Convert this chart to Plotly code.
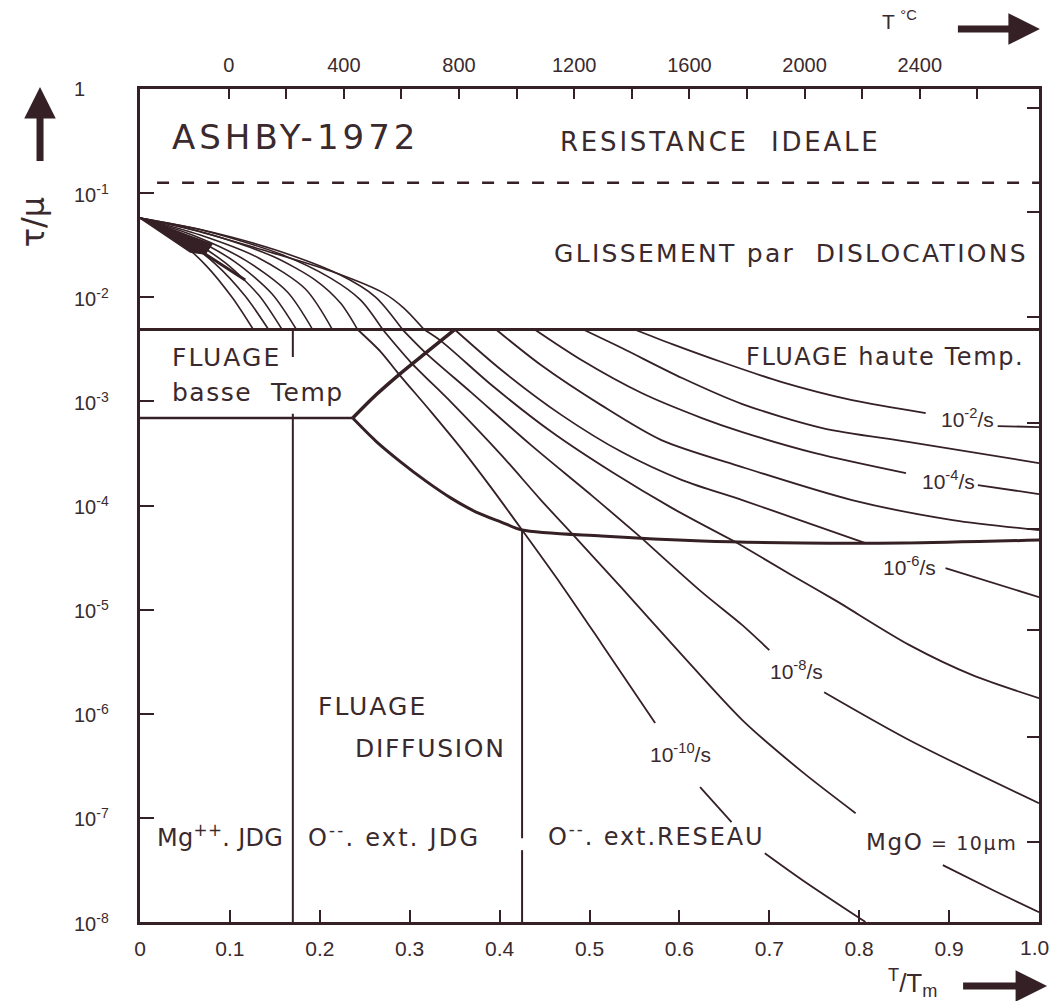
import plotly.graph_objects as go

LINE = "#352125"
TEXT = "#3a2a2d"
FONT = "DejaVu Sans"

# ---------------- axes data ----------------
x_ticks = [0, 0.1, 0.2, 0.3, 0.4, 0.5, 0.6, 0.7, 0.8, 0.9]
x_ticktext = ["0", "0.1", "0.2", "0.3", "0.4", "0.5", "0.6", "0.7", "0.8", "0.9"]
x_last_tick = 1.0
x_last_text = "1.0"
y_tick_exp = [0, -1, -2, -3, -4, -5, -6, -7, -8]
y_ticktext = ["1", "10<sup>-1</sup>", "10<sup>-2</sup>", "10<sup>-3</sup>", "10<sup>-4</sup>",
              "10<sup>-5</sup>", "10<sup>-6</sup>", "10<sup>-7</sup>", "10<sup>-8</sup>"]
t_celsius_ticks = [0, 400, 800, 1200, 1600, 2000, 2400]
t_celsius_text = ["0", "400", "800", "1200", "1600", "2000", "2400"]
t_celsius_minor = [200, 600, 1000, 1400, 1800, 2200, 2600]
t_celsius_range = [-308, 2814]           # top scale as drawn (°C over T/Tm 0..1)
right_tick_log = [-0.18, -1.18, -2.19, -3.21, -4.23, -5.20, -6.22, -7.23]

# ---------------- boundaries (T/Tm, log10 tau/mu) ----------------
ideal_x = [0.019, 1.0]
ideal_log = [-0.90, -0.90]
glide_x = [0.0, 1.0]
glide_log = [-2.31, -2.31]
ltcreep_x = [0.0, 0.2366]
ltcreep_log = [-3.16, -3.16]
diag_x = [0.2366, 0.2623, 0.2902, 0.3203, 0.350]
diag_log = [-3.16, -2.939, -2.728, -2.517, -2.31]
diff_x = [0.2366, 0.2623, 0.2902, 0.3181, 0.3460, 0.3739, 0.4018, 0.425, 0.5134, 0.625, 0.7366, 0.8482, 1.0]
diff_log = [-3.16, -3.381, -3.583, -3.766, -3.929, -4.063, -4.159, -4.236, -4.294, -4.342, -4.361, -4.361, -4.332]
jdg_x = 0.170
jdg_log = [-3.12, -8.0]
jdg_tick_log = [-2.31, -2.574]
lattice_x = 0.425
lattice_log_a = [-4.236, -7.195]
lattice_log_b = [-7.31, -8.0]

# ---------------- glide fan (T/Tm, log10 tau/mu) ----------------
fan = [
    ([0, 0.039, 0.073, 0.103, 0.126], [-1.239, -1.431, -1.691, -2.008, -2.31]),
    ([0, 0.045, 0.084, 0.117, 0.143], [-1.239, -1.431, -1.681, -1.988, -2.31]),
    ([0, 0.050, 0.095, 0.132, 0.158], [-1.239, -1.422, -1.671, -1.979, -2.31]),
    ([0, 0.056, 0.106, 0.147, 0.174], [-1.239, -1.422, -1.662, -1.969, -2.31]),
    ([0, 0.061, 0.117, 0.164, 0.192], [-1.239, -1.412, -1.643, -1.950, -2.31]),
    ([0, 0.067, 0.132, 0.184, 0.214], [-1.239, -1.403, -1.623, -1.921, -2.31]),
    ([0, 0.073, 0.147, 0.195, 0.223, 0.242], [-1.239, -1.383, -1.604, -1.835, -2.056, -2.31]),
    ([0, 0.073, 0.156, 0.212, 0.2455, 0.270], [-1.239, -1.364, -1.585, -1.816, -2.027, -2.31]),
    ([0, 0.065, 0.151, 0.223, 0.262, 0.292], [-1.239, -1.345, -1.547, -1.787, -1.998, -2.31]),
    ([0, 0.059, 0.137, 0.212, 0.271, 0.2935, 0.316], [-1.239, -1.354, -1.547, -1.748, -1.960, -2.104, -2.31]),
]
wedge_x = [0, 0.080, 0.0725, 0.056, 0]
wedge_log = [-1.239, -1.489, -1.585, -1.566, -1.239]
wedge_tail_x = [0.0725, 0.117]
wedge_tail_log = [-1.585, -1.835]

# ---------------- strain-rate contours: list of segments ----------------
rate_1e2 = [([0.550, 0.592, 0.647, 0.714, 0.792, 0.874], [-2.31, -2.450, -2.622, -2.815, -2.988, -3.112]),
            ([0.954, 1.0], [-3.237, -3.247])]
rate_1e3 = [([0.493, 0.536, 0.603, 0.670, 0.759, 0.856, 1.0], [-2.31, -2.488, -2.776, -3.026, -3.256, -3.391, -3.593])]
rate_1e4 = [([0.439, 0.491, 0.558, 0.625, 0.670, 0.751, 0.852], [-2.31, -2.603, -2.920, -3.160, -3.295, -3.497, -3.689]),
            ([0.932, 1.0], [-3.804, -3.890])]
rate_1e5 = [([0.396, 0.446, 0.513, 0.580, 0.670, 0.792, 0.904, 1.0], [-2.31, -2.651, -3.036, -3.372, -3.631, -3.948, -4.140, -4.236])]
rate_1e6 = [([0.350, 0.402, 0.469, 0.536, 0.603, 0.670, 0.737, 0.807], [-2.31, -2.699, -3.132, -3.487, -3.756, -3.948, -4.150, -4.361]),
            ([0.896, 1.0], [-4.601, -4.880])]
rate_1e7 = [([0.316, 0.335, 0.391, 0.458, 0.525, 0.592, 0.662], [-2.31, -2.421, -2.843, -3.295, -3.679, -4.025, -4.348]),
            ([0.662, 0.725, 0.773, 0.856, 0.926, 1.0], [-4.348, -4.669, -4.909, -5.341, -5.629, -5.850])]
rate_1e8 = [([0.292, 0.318, 0.368, 0.435, 0.502, 0.558], [-2.31, -2.536, -2.911, -3.420, -3.900, -4.313]),
            ([0.558, 0.625, 0.670, 0.700], [-4.313, -4.832, -5.149, -5.389]),
            ([0.761, 0.856, 1.0], [-5.793, -6.254, -6.859])]
rate_1e9 = [([0.270, 0.301, 0.346, 0.402, 0.446, 0.480], [-2.31, -2.622, -3.007, -3.516, -3.948, -4.265]),
            ([0.480, 0.536, 0.603, 0.670, 0.737, 0.796], [-4.265, -4.793, -5.437, -6.061, -6.561, -6.955]),
            ([0.893, 0.949, 1.0], [-7.454, -7.695, -7.906])]
rate_1e10 = [([0.242, 0.268, 0.287, 0.324, 0.357, 0.391, 0.425], [-2.31, -2.526, -2.728, -3.103, -3.449, -3.833, -4.236]),
             ([0.425, 0.469, 0.513, 0.573], [-4.236, -4.765, -5.322, -6.090]),
             ([0.623, 0.658], [-6.705, -7.041]),
             ([0.695, 0.737, 0.807], [-7.339, -7.598, -8.0])]
rates = [rate_1e2, rate_1e3, rate_1e4, rate_1e5, rate_1e6, rate_1e7, rate_1e8, rate_1e9, rate_1e10]

# rate labels (T/Tm, log10 tau/mu, text)
rate_labels = [
    (0.9208, -3.16, "10<sup>-2</sup>/s"),
    (0.8996, -3.756, "10<sup>-4</sup>/s"),
    (0.856, -4.582, "10<sup>-6</sup>/s"),
    (0.730, -5.581, "10<sup>-8</sup>/s"),
    (0.6016, -6.378, "10<sup>-10</sup>/s"),
]
# field labels (left T/Tm, log10 tau/mu, text, size, letter spacing px)
field_labels = [
    (0.0335, -0.461, "ASHBY-1972", 34, 4),
    (0.4654, -0.509, "RESISTANCE  IDEALE", 26, 2.8),
    (0.4587, -1.575, "GLISSEMENT par  DISLOCATIONS", 25, 2.3),
    (0.0335, -2.574, "FLUAGE", 25, 2),
    (0.0335, -2.911, "basse  Temp", 25, 1.5),
    (0.6719, -2.574, "FLUAGE haute Temp.", 24, 1.6),
    (0.1953, -5.927, "FLUAGE", 25, 2),
    (0.2366, -6.330, "DIFFUSION", 25, 1.7),
    (0.0167, -7.176, "Mg<sup>++</sup>. JDG", 24, 0.3),
    (0.1842, -7.176, "O<sup>--</sup>. ext. JDG", 24, 2.2),
    (0.452, -7.166, "O<sup>--</sup>. ext.RESEAU", 24, 1.9),
    (0.8058, -7.233, "MgO<span style=\"font-size:19px\"> = 10\u03bcm</span>", 23, 1.6),
]


def tau(logs):
    return [10 ** v for v in logs]


fig = go.Figure()


def add_line(xs, logs, width=1.8, shape="spline", dash=None, fill=None):
    fig.add_trace(go.Scatter(
        x=xs, y=tau(logs), mode="lines", hoverinfo="skip", showlegend=False,
        line=dict(color=LINE, width=width, shape=shape, smoothing=0.8, dash=dash),
        fill=fill, fillcolor=LINE if fill else None))


# boundaries
add_line(ideal_x, ideal_log, width=2.5, shape="linear", dash="12px,13px")
add_line(glide_x, glide_log, width=3, shape="linear")
add_line(ltcreep_x, ltcreep_log, width=2.6, shape="linear")
add_line(diag_x, diag_log, width=3.5)
add_line(diff_x, diff_log, width=3)
add_line([jdg_x, jdg_x], jdg_log, width=2, shape="linear")
add_line([jdg_x, jdg_x], jdg_tick_log, width=2, shape="linear")
add_line([lattice_x, lattice_x], lattice_log_a, width=2, shape="linear")
add_line([lattice_x, lattice_x], lattice_log_b, width=2, shape="linear")

# glide fan
for fx, fl in fan:
    add_line(fx, fl, width=1.6)
add_line(wedge_x, wedge_log, width=1.5, shape="linear", fill="toself")
add_line(wedge_tail_x, wedge_tail_log, width=3, shape="linear")

# contours
for rate in rates:
    for sx, sl in rate:
        add_line(sx, sl, width=1.8)

# invisible trace for top / right axes
fig.add_trace(go.Scatter(x=[1000], y=[1e-4], xaxis="x2", yaxis="y2", mode="markers",
                         marker=dict(opacity=0), hoverinfo="skip", showlegend=False))

ann = []
for e, t in zip(y_tick_exp, y_ticktext):
    ann.append(dict(x=-0.0756, xref="paper", y=e, yref="y", text=t, showarrow=False,
                    xanchor="left", yanchor="middle", font=dict(size=20, color=TEXT, family="Liberation Sans")))
# last bottom tick label kept inside the page edge
ann.append(dict(x=1.0133, xref="paper", y=-0.031, yref="paper", text=x_last_text, showarrow=False,
                xanchor="right", yanchor="middle", font=dict(size=21, color=TEXT, family="Liberation Sans")))
for x, l, t in rate_labels:
    ann.append(dict(x=x, y=l, xref="x", yref="y", text=t, showarrow=False,
                    xanchor="center", yanchor="middle", font=dict(size=21, color=TEXT, family="Liberation Sans")))
for x, l, t, s, sp in field_labels:
    ann.append(dict(x=x, y=l, xref="x", yref="y",
                    text="<span style=\"letter-spacing:%spx\">%s</span>" % (sp, t), showarrow=False,
                    xanchor="left", yanchor="middle", font=dict(size=s, color=TEXT, family=FONT)))

# axis titles and arrows
ann.append(dict(x=-0.119, y=0.84, xref="paper", yref="paper", text="\u03c4/\u03bc", textangle=-90,
                xanchor="center", yanchor="middle",
                showarrow=False, font=dict(size=32, color=TEXT, family=FONT)))
ann.append(dict(x=-0.1112, y=1.0024, xref="paper", yref="paper", text=" ", showarrow=True,
                ax=0, ay=84, arrowhead=2, arrowsize=0.9, arrowwidth=7, arrowcolor=LINE))
ann.append(dict(x=0.845, y=1.083, xref="paper", yref="paper", text="T <sup>\u00b0C</sup>",
                xanchor="center", yanchor="middle",
                showarrow=False, font=dict(size=21, color=TEXT, family="Liberation Sans")))
ann.append(dict(x=1.001, y=1.072, xref="paper", yref="paper", text=" ", showarrow=True,
                ax=-85, ay=0, arrowhead=2, arrowsize=0.9, arrowwidth=7, arrowcolor=LINE))
ann.append(dict(x=0.859, y=-0.0732, xref="paper", yref="paper", text="<sup>T</sup>/T<sub>m</sub>",
                xanchor="center", yanchor="middle",
                showarrow=False, font=dict(size=26, color=TEXT, family="Liberation Sans")))
ann.append(dict(x=1.009, y=-0.0768, xref="paper", yref="paper", text=" ", showarrow=True,
                ax=-87, ay=0, arrowhead=2, arrowsize=0.9, arrowwidth=7, arrowcolor=LINE))

axis_common = dict(showgrid=False, zeroline=False, showline=True, linewidth=3, linecolor=LINE,
                   ticks="inside", tickcolor=LINE, tickwidth=2, automargin=False)

fig.update_layout(
    width=1052, height=1001,
    margin=dict(l=140, r=13, t=89, b=79, autoexpand=False),
    paper_bgcolor="white", plot_bgcolor="white",
    xaxis=dict(range=[0, 1], tickvals=x_ticks, ticktext=x_ticktext, ticklen=12,
               minor=dict(tickvals=[x_last_tick], ticks="inside", ticklen=12, tickwidth=2,
                          tickcolor=LINE, showgrid=False),
               tickfont=dict(size=21, color=TEXT, family="Liberation Sans"), ticklabelstandoff=6,
               **axis_common),
    xaxis2=dict(range=t_celsius_range, overlaying="x", side="top", anchor="y2",
                tickvals=t_celsius_ticks, ticktext=t_celsius_text, ticklen=10,
                minor=dict(tickvals=t_celsius_minor, ticks="inside", ticklen=10, tickwidth=2,
                           tickcolor=LINE, showgrid=False),
                tickfont=dict(size=20, color=TEXT, family="Liberation Sans"), ticklabelstandoff=6,
                **axis_common),
    yaxis=dict(type="log", range=[-8, 0], tickvals=tau(y_tick_exp), showticklabels=False,
               ticklen=14, **axis_common),
    yaxis2=dict(type="log", range=[-8, 0], overlaying="y", side="right", anchor="x2",
                tickvals=tau(right_tick_log), showticklabels=False, ticklen=12, **axis_common),
    annotations=ann,
    showlegend=False,
)

fig.write_html("out.html")
